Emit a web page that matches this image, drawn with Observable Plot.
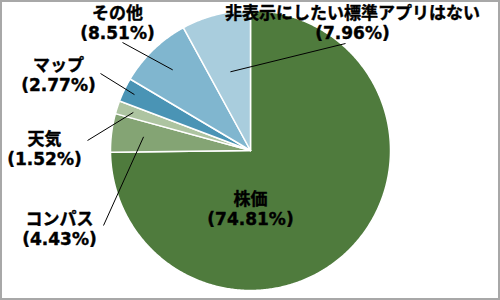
<!DOCTYPE html>
<html>
<head>
<meta charset="utf-8">
<script src="https://cdn.jsdelivr.net/npm/d3@7"></script>
<script src="https://cdn.jsdelivr.net/npm/@observablehq/plot@0.6"></script>
<style>
  html, body { margin: 0; padding: 0; background: #fff; }
  #chart svg { display: block; outline: 2px solid #a8a8a8; outline-offset: -2px; }
</style>
</head>
<body>
<div id="chart"></div>
<script>
// ---- data ----
const categories = ["株価", "コンパス", "天気", "マップ", "その他", "非表示にしたい標準アプリはない"];
const values = [74.81, 4.43, 1.52, 2.77, 8.51, 7.96];
const colors = ["#4f7b3d", "#84a474", "#adc4a1", "#4a94b5", "#80b6cf", "#a9cddd"];

// ---- layout (pixels in the 500x300 frame) ----
const W = 500, H = 300, CX = 250, CY = 150, R = 140;
const labelLayout = {
  "株価": {x: 250, y: 208},
  "コンパス": {x: 59, y: 228, lx: 103, ly: 225, f: 0.77},
  "天気": {x: 44, y: 148, lx: 87, ly: 140, f: 0.88},
  "マップ": {x: 58, y: 74, lx: 100, ly: 73, f: 0.92},
  "その他": {x: 117, y: 22, lx: 122, ly: 42, f: 0.80},
  "非表示にしたい標準アプリはない": {x: 352, y: 22, lx: 345, ly: 43, f: 0.58}
};
const ux = px => (px - CX) / R;
const uy = py => (CY - py) / R;

// ---- slices as polygons (angles clockwise from 12 o'clock) ----
const total = d3.sum(values);
let acc = 0;
const slices = categories.map((c, i) => {
  const a0 = acc / total * 2 * Math.PI;
  acc += values[i];
  const a1 = acc / total * 2 * Math.PI;
  return {cat: c, value: values[i], a0, a1, mid: (a0 + a1) / 2};
});
const poly = [];
for (const s of slices) {
  poly.push({cat: s.cat, x: 0, y: 0});
  const n = Math.max(2, Math.ceil((s.a1 - s.a0) / (Math.PI / 360)));
  for (let k = 0; k <= n; k++) {
    const a = s.a0 + (s.a1 - s.a0) * k / n;
    poly.push({cat: s.cat, x: Math.sin(a), y: Math.cos(a)});
  }
  poly.push({cat: s.cat, x: 0, y: 0});
}

const labels = slices.map(s => ({
  cat: s.cat,
  text: `${s.cat}\n(${s.value.toFixed(2)}%)`,
  x: ux(labelLayout[s.cat].x),
  y: uy(labelLayout[s.cat].y)
}));
const leaders = slices.filter(s => labelLayout[s.cat].lx != null).map(s => {
  const L = labelLayout[s.cat];
  return {
    x1: L.f * Math.sin(s.mid), y1: L.f * Math.cos(s.mid),
    x2: ux(L.lx), y2: uy(L.ly)
  };
});

const chart = Plot.plot({
  width: W, height: H,
  marginLeft: CX - R, marginRight: W - CX - R,
  marginTop: CY - R, marginBottom: H - CY - R,
  x: {domain: [-1, 1], axis: null},
  y: {domain: [-1, 1], axis: null},
  color: {domain: categories, range: colors},
  style: {fontFamily: "'DejaVu Sans', 'Noto Sans CJK JP', sans-serif", background: "#fff"},
  marks: [
    Plot.line(poly, {x: "x", y: "y", z: "cat", fill: "cat", stroke: "#fff", strokeWidth: 1.5, strokeLinejoin: "round", curve: "linear"}),
    Plot.link(leaders, {x1: "x1", y1: "y1", x2: "x2", y2: "y2", stroke: "#000", strokeWidth: 1}),
    Plot.text(labels, {x: "x", y: "y", text: "text", fontSize: 17, fontWeight: "bold", fill: "#000", stroke: "#000", strokeWidth: 0.4, lineAnchor: "middle", textAnchor: "middle", lineHeight: 1.15})
  ]
});
document.getElementById("chart").appendChild(chart);
</script>
</body>
</html>
